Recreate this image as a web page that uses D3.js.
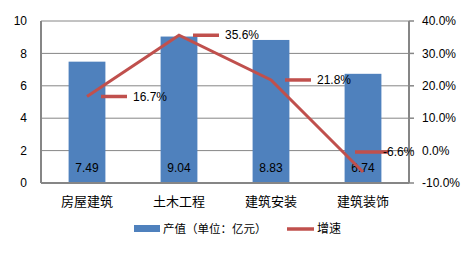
<!DOCTYPE html>
<html>
<head>
<meta charset="utf-8">
<script src="https://cdn.jsdelivr.net/npm/d3@7"></script>
<style>
  body { margin: 0; background: #fff; }
  text { font-family: "Liberation Sans", "Noto Sans CJK SC", sans-serif; fill: #000; }
</style>
</head>
<body>
<div id="vis"></div>
<script>
// chart data
var categories = ["房屋建筑", "土木工程", "建筑安装", "建筑装饰"];
var outputValues = [7.49, 9.04, 8.83, 6.74];   // 产值（单位：亿元）
var growthRates = [16.7, 35.6, 21.8, -6.6];    // 增速 %
var leftTicks = [0, 2, 4, 6, 8, 10];
var rightTicks = [-10, 0, 10, 20, 30, 40];

var W = 471, H = 255;
var margin = {top: 21, right: 62, bottom: 72, left: 41};
var plotW = W - margin.left - margin.right,   // 368
    plotH = H - margin.top - margin.bottom;   // 162

var barColor = "#4F81BD", lineColor = "#C0504D", gridColor = "#868686";
var pct = d => d.toFixed(1) + "%";

var svg = d3.select("#vis").append("svg")
  .attr("width", W)
  .attr("height", H);

var g = svg.append("g").attr("transform", `translate(${margin.left},${margin.top})`);

var x = d3.scaleBand().domain(categories).range([0, plotW]).paddingInner(0.6).paddingOuter(0.3);
var xc = d => x(d) + x.bandwidth() / 2;
var yL = d3.scaleLinear().domain([0, 10]).range([plotH, 0]);
var yR = d3.scaleLinear().domain([-10, 40]).range([plotH, 0]);

// gridlines
g.append("g").selectAll("line").data(leftTicks.slice(1)).join("line")
  .attr("x1", 0).attr("x2", plotW)
  .attr("y1", d => yL(d)).attr("y2", d => yL(d))
  .attr("stroke", gridColor).attr("stroke-width", 1);

// bars
g.append("g").selectAll("rect").data(outputValues).join("rect")
  .attr("x", (d, i) => x(categories[i]))
  .attr("width", x.bandwidth())
  .attr("y", d => yL(d))
  .attr("height", d => plotH - yL(d))
  .attr("fill", barColor);

// axes lines
g.append("line").attr("x1", 0).attr("x2", 0).attr("y1", 0).attr("y2", plotH)
  .attr("stroke", gridColor).attr("stroke-width", 2);
g.append("line").attr("x1", plotW).attr("x2", plotW).attr("y1", 0).attr("y2", plotH)
  .attr("stroke", gridColor).attr("stroke-width", 2);
g.append("line").attr("x1", 0).attr("x2", plotW).attr("y1", plotH).attr("y2", plotH)
  .attr("stroke", gridColor).attr("stroke-width", 2);

// right ticks
g.append("g").selectAll("line").data(rightTicks).join("line")
  .attr("x1", plotW).attr("x2", plotW + 5)
  .attr("y1", d => yR(d)).attr("y2", d => yR(d))
  .attr("stroke", gridColor).attr("stroke-width", 1.5);

// left tick labels
g.append("g").selectAll("text").data(leftTicks).join("text")
  .attr("x", -14).attr("y", d => yL(d)).attr("dy", "0.35em")
  .attr("text-anchor", "end").style("font-size", "12px")
  .text(d => d);

// right tick labels
g.append("g").selectAll("text").data(rightTicks).join("text")
  .attr("x", plotW + 13).attr("y", d => yR(d)).attr("dy", "0.35em")
  .attr("text-anchor", "start").style("font-size", "12px")
  .text(pct);

// category labels
g.append("g").selectAll("text").data(categories).join("text")
  .attr("x", d => xc(d)).attr("y", plotH + 18).attr("dy", "0.35em")
  .attr("text-anchor", "middle").style("font-size", "13px")
  .text(d => d);

// bar value labels
g.append("g").selectAll("text").data(outputValues).join("text")
  .attr("x", (d, i) => xc(categories[i])).attr("y", plotH - 15).attr("dy", "0.35em")
  .attr("text-anchor", "middle").style("font-size", "12px")
  .text(d => d.toFixed(2));

// growth line
var line = d3.line().x((d, i) => xc(categories[i])).y(d => yR(d));
g.append("path").datum(growthRates)
  .attr("d", line)
  .attr("fill", "none").attr("stroke", lineColor).attr("stroke-width", 3);

// line data labels with legend key
var lbl = g.append("g").selectAll("g").data(growthRates).join("g")
  .attr("transform", (d, i) => {
    var dy = d < 0 ? -20 : 0;
    var dx = d < 0 ? -8 : 14;
    return `translate(${xc(categories[i]) + dx},${yR(d) + dy})`;
  });
lbl.append("line").attr("x1", 0).attr("x2", d => d < 0 ? 33 : 26).attr("y1", 0).attr("y2", 0)
  .attr("stroke", lineColor).attr("stroke-width", 3.5);
lbl.append("text").attr("x", d => d < 0 ? 28 : 32).attr("y", 0).attr("dy", "0.35em")
  .style("font-size", "12px")
  .text(pct);

// legend
var leg = svg.append("g").attr("transform", "translate(134,229)");
leg.append("rect").attr("x", 0).attr("y", -4).attr("width", 26).attr("height", 7).attr("fill", barColor);
leg.append("text").attr("x", 29).attr("y", 0).attr("dy", "0.35em").style("font-size", "11.5px")
  .text("产值（单位：亿元）");
leg.append("line").attr("x1", 153).attr("x2", 180).attr("y1", 0).attr("y2", 0)
  .attr("stroke", lineColor).attr("stroke-width", 3.5);
leg.append("text").attr("x", 183).attr("y", 0).attr("dy", "0.35em").style("font-size", "12px")
  .text("增速");
</script>
</body>
</html>
